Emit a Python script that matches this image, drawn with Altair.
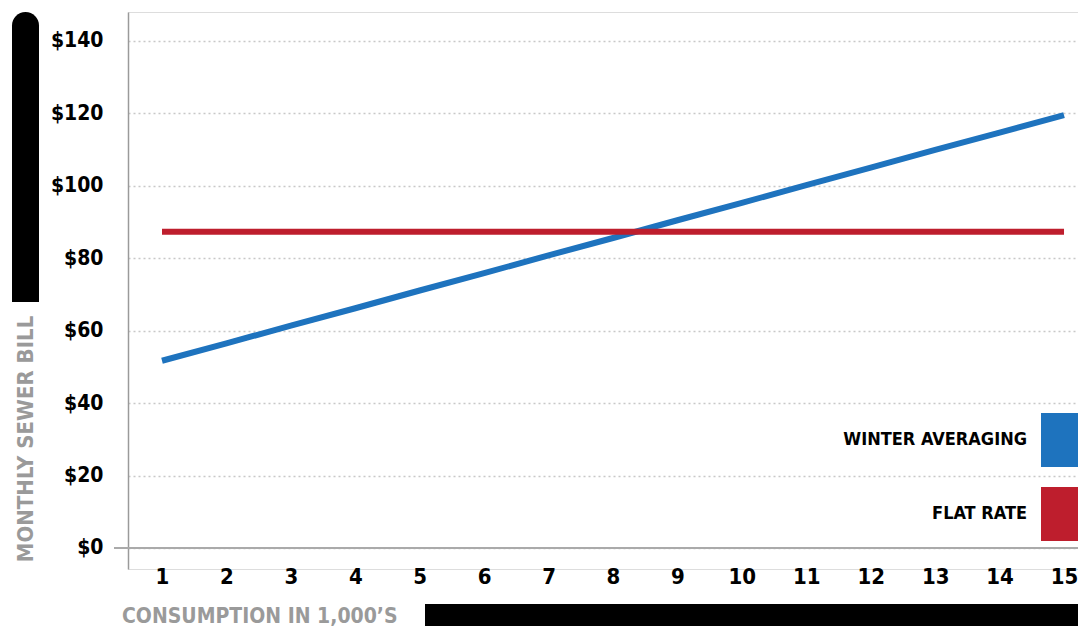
import altair as alt
import pandas as pd

consumption = [1, 2, 3, 4, 5, 6, 7, 8, 9, 10, 11, 12, 13, 14, 15]
winter_averaging = [51.7, 56.5, 61.4, 66.2, 71.1, 75.9, 80.8, 85.6, 90.5, 95.3, 100.2, 105.0, 109.9, 114.7, 119.5]
flat_rate = [87.3, 87.3, 87.3, 87.3, 87.3, 87.3, 87.3, 87.3, 87.3, 87.3, 87.3, 87.3, 87.3, 87.3, 87.3]
series_names = ["WINTER AVERAGING", "FLAT RATE"]
series_colors = ["#1E73BE", "#BE1E2D"]
y_ticks = [0, 20, 40, 60, 80, 100, 120, 140]
y_title = "MONTHLY SEWER BILL"
x_title = "CONSUMPTION IN 1,000\u2019S"

rows = []
for name, vals in zip(series_names, [winter_averaging, flat_rate]):
    for c, v in zip(consumption, vals):
        rows.append({"consumption": c, "series": name, "bill": v})
df = pd.DataFrame(rows)
legend_df = pd.DataFrame({"series": series_names})

FONT = "DejaVu Sans Condensed, sans-serif"
FONT_A = "Noto Sans ExtraCondensed, DejaVu Sans Condensed, sans-serif"
FONT_B = "Noto Sans Condensed, DejaVu Sans Condensed, sans-serif"
W, H = 950, 557
one = alt.Data(values=[{}])
color_scale = alt.Scale(domain=series_names, range=series_colors)

lines = alt.Chart(df).mark_line(strokeWidth=6, strokeCap="butt").encode(
    x=alt.X("consumption:Q",
            scale=alt.Scale(domain=[0.4723, 15.217], nice=False, zero=False),
            axis=alt.Axis(values=consumption, title=None, domain=False, ticks=False, tickSize=0,
                          grid=False, labelFontSize=22, labelFontWeight="bold", labelColor="#000",
                          labelBaseline="middle", labelPadding=7, labelFont=FONT)),
    y=alt.Y("bill:Q",
            scale=alt.Scale(domain=[-5.8, 148], nice=False, zero=False),
            axis=alt.Axis(values=y_ticks, title=None, labelExpr="'$' + datum.value",
                          domain=True, domainColor="#9a9a9a", domainWidth=1.5,
                          ticks=False, tickSize=0, labelPadding=25, labelFontSize=21,
                          labelFontWeight="bold", labelColor="#000", labelFont=FONT,
                          grid=True, gridColor="#c8c8c8", gridDash=[2, 3], gridWidth=1.5)),
    color=alt.Color("series:N", scale=color_scale, legend=None),
)

zero_rule = alt.Chart(one).mark_rule(color="#aaaaaa", strokeWidth=2).encode(
    y=alt.datum(0), x=alt.value(-14), x2=alt.value(W + 20)
)

main = alt.layer(zero_rule, lines)

legend_y = alt.Y("series:N", sort=series_names,
                 scale=alt.Scale(type="point", domain=series_names, range=[428, 502], padding=0),
                 axis=None)

legend_squares = alt.Chart(legend_df).mark_square(size=2916, opacity=1, filled=True).encode(
    x=alt.value(940), y=legend_y,
    color=alt.Color("series:N", scale=color_scale, legend=None),
)

legend_labels = alt.Chart(legend_df).mark_text(
    align="right", baseline="middle", fontSize=18, fontWeight="bold", color="#000", font=FONT
).encode(x=alt.value(899), y=legend_y, text="series:N")

y_bar = alt.Chart(one).mark_rect(color="#000", cornerRadiusTopLeft=14, cornerRadiusTopRight=14).encode(
    x=alt.value(-116), x2=alt.value(-89), y=alt.value(0), y2=alt.value(290)
)

x_bar = alt.Chart(one).mark_rect(color="#000").encode(
    x=alt.value(297), x2=alt.value(W + 20), y=alt.value(592), y2=alt.value(640)
)

y_title_txt = alt.Chart(one).mark_text(
    text=y_title, angle=270, align="center", baseline="middle", fontSize=22,
    fontWeight="bold", color="#9a9a9a", font=FONT_A
).encode(x=alt.value(-102), y=alt.value(427))

x_title_txt = alt.Chart(one).mark_text(
    text=x_title, align="left", baseline="middle", fontSize=21,
    fontWeight="bold", color="#9a9a9a", font=FONT_B
).encode(x=alt.value(-6), y=alt.value(605))

chart = alt.layer(main, legend_squares, legend_labels, y_bar, x_bar, y_title_txt, x_title_txt).resolve_scale(
    y="independent"
).properties(
    width=W, height=H,
    autosize=alt.AutoSizeParams(type="none"),
    padding={"left": 120, "top": 4, "right": 0, "bottom": 57},
).configure_view(stroke=None).configure(font=FONT)

chart.save("out.html", embed_options={"renderer": "svg", "actions": False})
